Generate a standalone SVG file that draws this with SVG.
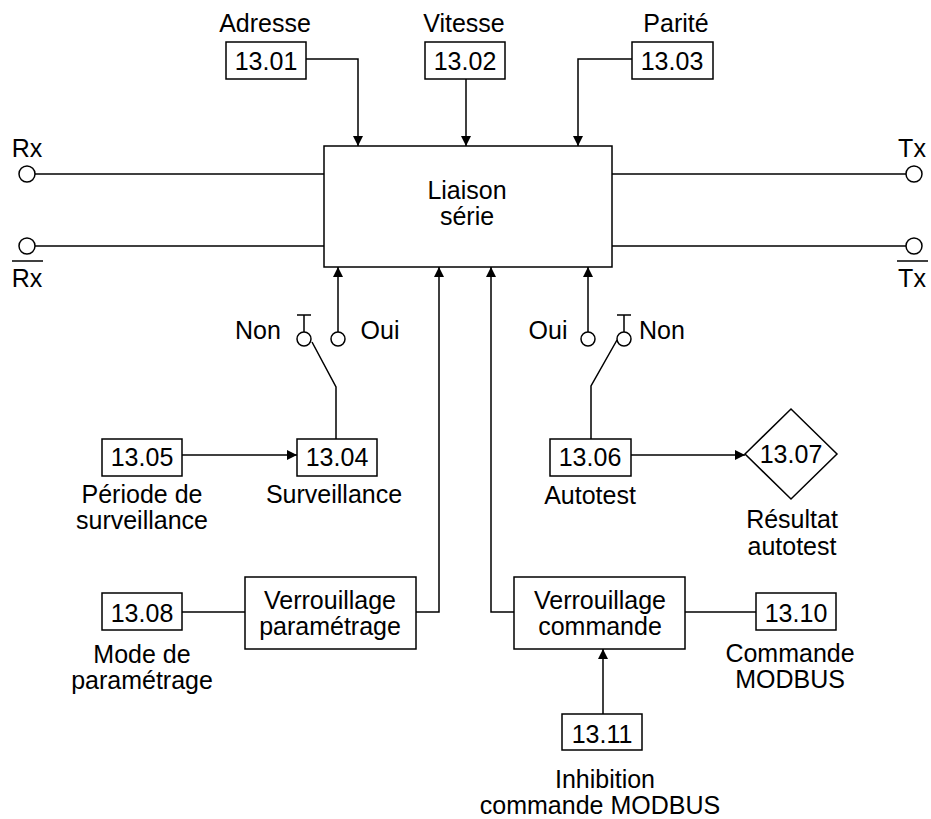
<svg xmlns="http://www.w3.org/2000/svg" width="931" height="819" viewBox="0 0 931 819">
<defs>
<style>
.t{font-family:"Liberation Sans",Arial,sans-serif;font-size:25px;fill:#000;text-anchor:middle}
.s{fill:none;stroke:#000;stroke-width:1.5}
.b{fill:#fff;stroke:#000;stroke-width:1.5}
</style>
<marker id="ar" markerUnits="userSpaceOnUse" markerWidth="10" markerHeight="10" refX="10" refY="5" orient="auto" viewBox="0 0 10 10">
<path d="M0,0 L10,5 L0,10 z" fill="#000"/>
</marker>
</defs>
<rect width="931" height="819" fill="#fff"/>

<g id="connectors">
<path class="s" d="M306,59 H358 V146" marker-end="url(#ar)"/>
<path class="s" d="M466,79 V146" marker-end="url(#ar)"/>
<path class="s" d="M632,59 H578 V146" marker-end="url(#ar)"/>
<path class="s" d="M35,174 H324"/>
<path class="s" d="M35,246 H324"/>
<path class="s" d="M612,174 H906"/>
<path class="s" d="M612,246 H906"/>
<path class="s" d="M338,332 V267" marker-end="url(#ar)"/>
<path class="s" d="M588,332 V267" marker-end="url(#ar)"/>
<path class="s" d="M312,342 L336,387 V439"/>
<path class="s" d="M617,340 L591,386 V439"/>
<path class="s" d="M182,455 H297" marker-end="url(#ar)"/>
<path class="s" d="M631,455 H745" marker-end="url(#ar)"/>
<path class="s" d="M182,612 H245"/>
<path class="s" d="M416,612 H439 V267" marker-end="url(#ar)"/>
<path class="s" d="M514,612 H491 V267" marker-end="url(#ar)"/>
<path class="s" d="M685,612 H756"/>
<path class="s" d="M603,714 V649" marker-end="url(#ar)"/>
</g>

<g id="n1301"><rect class="b" x="226" y="42" width="80" height="37"/><text class="t" x="266" y="70">13.01</text><text class="t" x="265" y="32">Adresse</text></g>
<g id="n1302"><rect class="b" x="425" y="42" width="80" height="37"/><text class="t" x="465" y="70">13.02</text><text class="t" x="464" y="32">Vitesse</text></g>
<g id="n1303"><rect class="b" x="632" y="42" width="81" height="37"/><text class="t" x="672" y="70">13.03</text><text class="t" x="676" y="32">Parité</text></g>

<g id="main"><rect class="b" x="324" y="146" width="288" height="121"/><text class="t" x="467" y="199">Liaison</text><text class="t" x="467" y="225">série</text></g>

<g id="rx"><circle class="b" cx="27" cy="174" r="8"/><text class="t" x="27" y="157">Rx</text></g>
<g id="rxbar"><circle class="b" cx="27" cy="246" r="8"/><text class="t" x="27" y="287">Rx</text><path class="s" d="M12,261 H43"/></g>
<g id="tx"><circle class="b" cx="914" cy="174" r="8"/><text class="t" x="912" y="157">Tx</text></g>
<g id="txbar"><circle class="b" cx="914" cy="246" r="8"/><text class="t" x="912" y="287">Tx</text><path class="s" d="M897,261 H928"/></g>

<g id="switch1">
<circle class="b" cx="304" cy="339" r="7"/>
<path class="s" d="M297,315 H311 M304,315 V332"/>
<circle class="b" cx="338" cy="339" r="7"/>
<text class="t" x="258" y="339">Non</text>
<text class="t" x="380" y="339">Oui</text>
</g>
<g id="switch2">
<circle class="b" cx="588" cy="339" r="7"/>
<circle class="b" cx="624" cy="339" r="7"/>
<path class="s" d="M617,315 H631 M624,315 V332"/>
<text class="t" x="548" y="339">Oui</text>
<text class="t" x="662" y="339">Non</text>
</g>

<g id="n1304"><rect class="b" x="297" y="439" width="80" height="37"/><text class="t" x="337" y="466">13.04</text><text class="t" x="334" y="503">Surveillance</text></g>
<g id="n1305"><rect class="b" x="102" y="439" width="80" height="37"/><text class="t" x="142" y="466">13.05</text><text class="t" x="142" y="503">Période de</text><text class="t" x="142" y="529">surveillance</text></g>
<g id="n1306"><rect class="b" x="550" y="439" width="81" height="37"/><text class="t" x="590" y="466">13.06</text><text class="t" x="590" y="504">Autotest</text></g>
<g id="n1307"><path class="b" d="M745,454 L791,409 L837,454 L791,499 Z"/><text class="t" x="791" y="463">13.07</text><text class="t" x="792" y="528">Résultat</text><text class="t" x="792" y="555">autotest</text></g>

<g id="n1308"><rect class="b" x="102" y="593" width="80" height="37"/><text class="t" x="142" y="622">13.08</text><text class="t" x="142" y="663">Mode de</text><text class="t" x="142" y="689">paramétrage</text></g>
<g id="vparam"><rect class="b" x="245" y="577" width="171" height="72"/><text class="t" x="330" y="609">Verrouillage</text><text class="t" x="330" y="635">paramétrage</text></g>
<g id="vcmd"><rect class="b" x="514" y="577" width="171" height="72"/><text class="t" x="600" y="609">Verrouillage</text><text class="t" x="600" y="635">commande</text></g>
<g id="n1310"><rect class="b" x="756" y="593" width="80" height="37"/><text class="t" x="796" y="622">13.10</text><text class="t" x="790" y="662">Commande</text><text class="t" x="790" y="688">MODBUS</text></g>
<g id="n1311"><rect class="b" x="562" y="714" width="80" height="36"/><text class="t" x="602" y="743">13.11</text><text class="t" x="605" y="788">Inhibition</text><text class="t" x="600" y="814">commande MODBUS</text></g>
</svg>
